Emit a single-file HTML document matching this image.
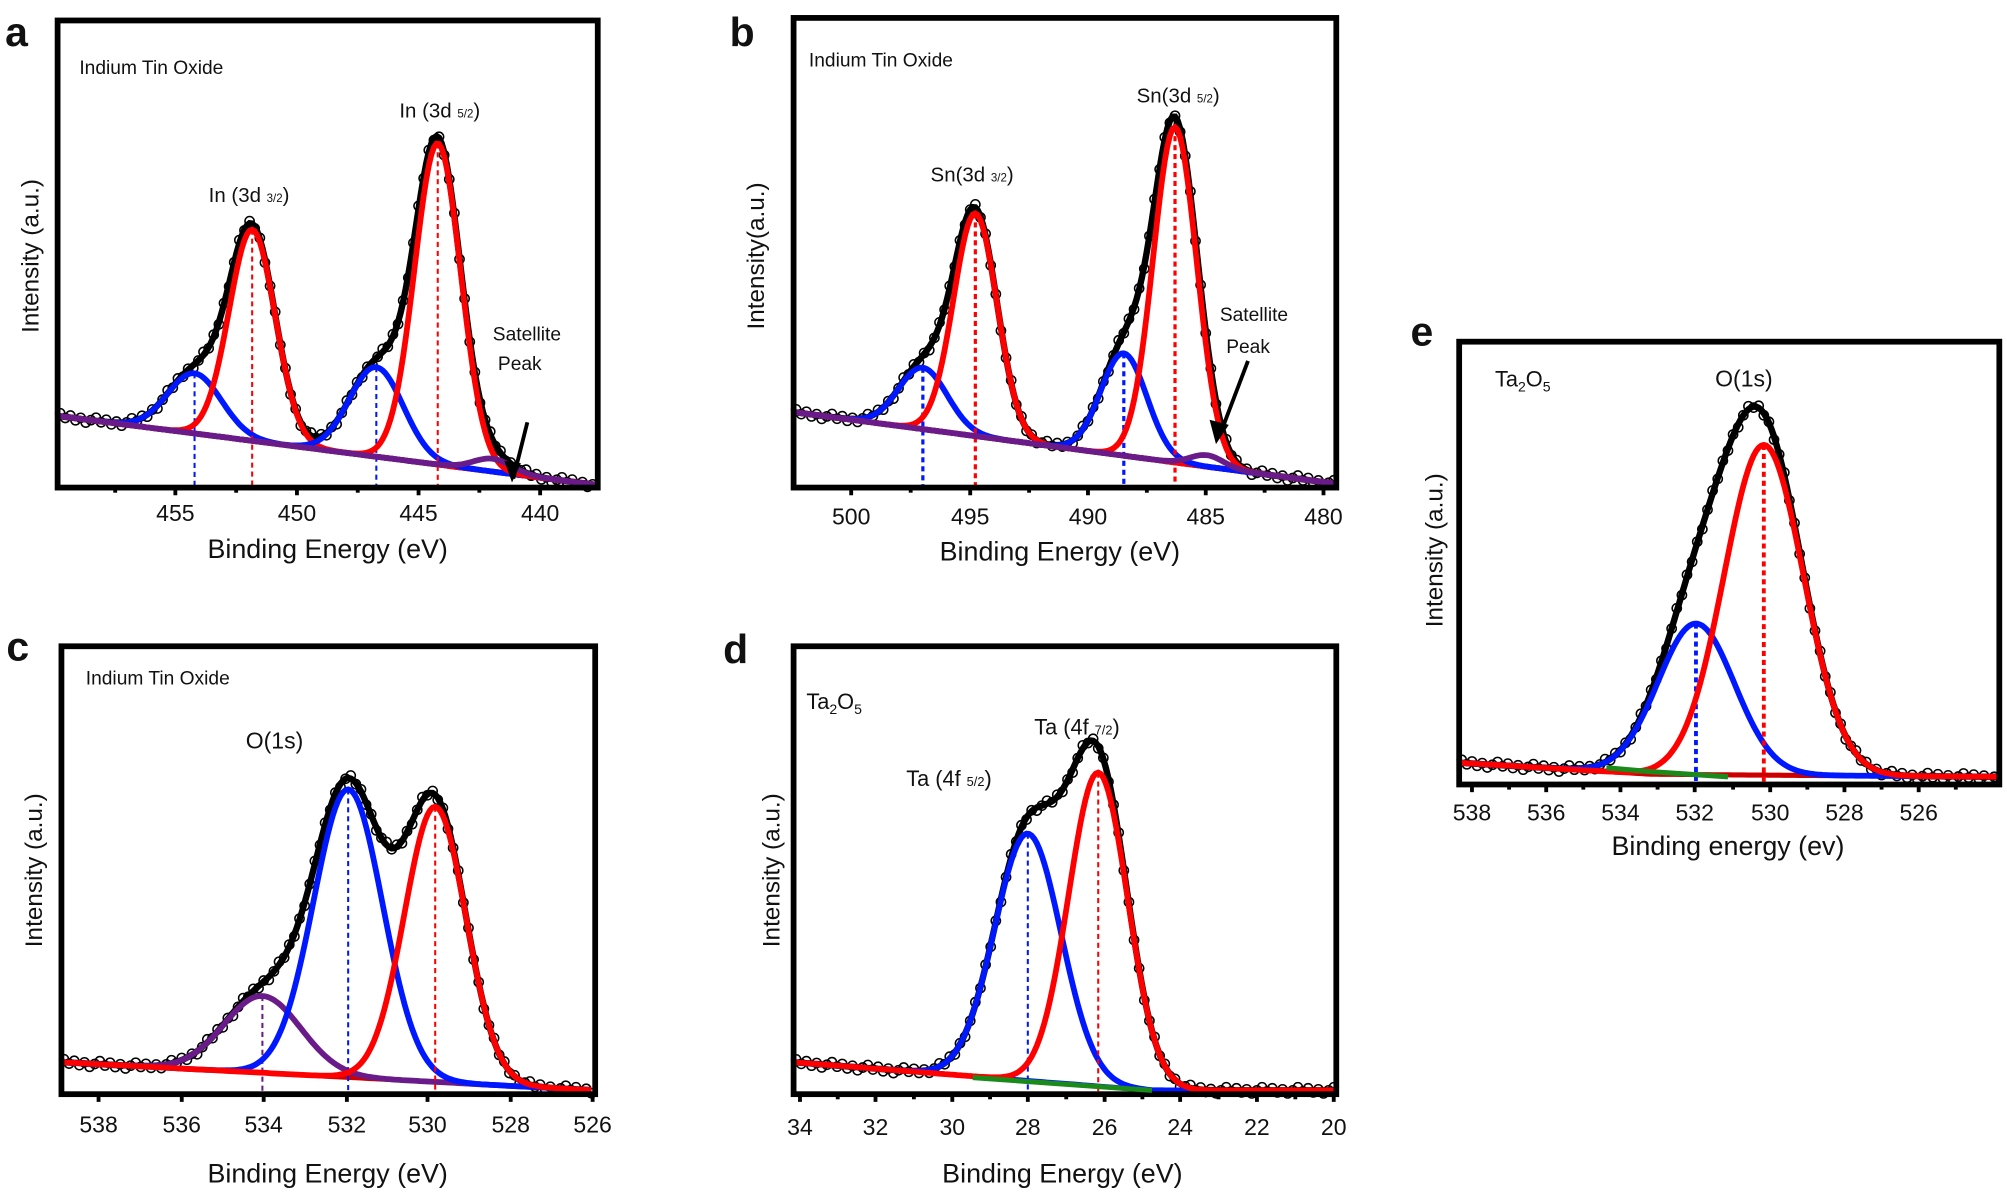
<!DOCTYPE html>
<html><head><meta charset="utf-8"><style>
html,body{margin:0;padding:0;background:#fff;}
svg{display:block;font-family:"Liberation Sans",Arial,sans-serif;}
</style></head><body>
<svg id="s" width="2007" height="1194" viewBox="0 0 1568 933" preserveAspectRatio="none" xmlns="http://www.w3.org/2000/svg">
<g id="g"></g>
</svg>
<script>
var NS="http://www.w3.org/2000/svg",G=document.getElementById("g");
function el(t,a,txt){var e=document.createElementNS(NS,t);for(var k in a)e.setAttribute(k,a[k]);if(txt!=null)e.textContent=txt;G.appendChild(e);return e;}
function txt(x,y,s,size,opt){opt=opt||{};var a={x:x,y:y,"font-size":size,fill:"#111"};if(opt.anchor)a["text-anchor"]=opt.anchor;if(opt.weight)a["font-weight"]=opt.weight;if(opt.rot)a.transform="rotate(-90 "+x+" "+y+")";var e=el("text",a);e.innerHTML=s;return e;}
function panel(p){
  var L=p.l,R=p.r,T=p.t,B=p.b;
  function bg(x){for(var i=0;i<p.bg.length-1;i++){var a=p.bg[i],b=p.bg[i+1];if(x<=b[0]){return a[1]+(b[1]-a[1])*(x-a[0])/(b[0]-a[0]);}}return p.bg[p.bg.length-1][1];}
  function pk(q,x){return q.h*Math.exp(-(x-q.x)*(x-q.x)/(2*q.s*q.s));}
  var d="",pts=[];
  for(var x=L+2;x<=R-2;x+=2){var y=bg(x);p.pk.forEach(function(q){y-=pk(q,x);});y=Math.min(y,B-2);d+=(d?"L":"M")+x+" "+y.toFixed(1);pts.push([x,y]);}
  el("path",{d:d,fill:"none",stroke:"#000","stroke-width":5});
  for(var i=0;i<pts.length;i+=2){var j=((i*37)%7-3)*0.8;el("circle",{cx:pts[i][0],cy:(pts[i][1]+j).toFixed(1),r:3.6,fill:"none",stroke:"#000","stroke-width":1.2});}
  var bd="";for(var x=L+2;x<=R-2;x+=4){bd+=(bd?"L":"M")+x+" "+bg(x).toFixed(1);}
  el("path",{d:bd,fill:"none",stroke:p.bgc,"stroke-width":4});
  p.pk.forEach(function(q){var cd="";for(var x=L+2;x<=R-2;x+=2){var y=Math.min(bg(x)-pk(q,x),B-2);cd+=(cd?"L":"M")+x+" "+y.toFixed(1);}
    el("path",{d:cd,fill:"none",stroke:q.c,"stroke-width":4.5});
    if(q.v)el("line",{x1:q.x,y1:bg(q.x)-q.h,x2:q.x,y2:B,stroke:q.c,"stroke-width":q.vw||1.6,"stroke-dasharray":"4,3"});
  });
  el("rect",{x:L,y:T,width:R-L,height:B-T,fill:"none",stroke:"#000","stroke-width":4.5});
  p.ticks.forEach(function(t){el("line",{x1:t[0],y1:B,x2:t[0],y2:B+6,stroke:"#000","stroke-width":3});txt(t[0],p.ty,t[1],18,{anchor:"middle"});});
  if(p.minor)p.minor.forEach(function(x){el("line",{x1:x,y1:B,x2:x,y2:B+4,stroke:"#000","stroke-width":3});});
  txt(p.xl[0],p.xl[1],p.xl[2],21,{anchor:"middle"});
  txt(p.yl[0],p.yl[1],p.yl[2],19,{anchor:"middle",rot:1});
  txt(p.let[0],p.let[1],p.let[2],32,{weight:"bold"});
}
function mids(a){var r=[];for(var i=0;i<a.length-1;i++)r.push((a[i][0]+a[i+1][0])/2);return r;}
// a
var ta=[[137,"455"],[232,"450"],[327,"445"],[422,"440"]];
panel({l:45,r:467,t:16,b:381,bgc:"#6a1b8a",
 bg:[[45,325],[467,379]],
 pk:[{x:152,h:47,s:21,c:"#0018ff",v:1},{x:197,h:165,s:18,c:"#ff0000",v:1},{x:294,h:70,s:21,c:"#0018ff",v:1},{x:342,h:251,s:18,c:"#ff0000",v:1},{x:385,h:10,s:15,c:"#6a1b8a"}],
 ticks:ta,minor:[90].concat(mids(ta)),ty:407,
 xl:[256,436,"Binding Energy (eV)"],yl:[30,200,"Intensity (a.u.)"],let:[4,36,"a"]});
txt(62,58,"Indium Tin Oxide",15);
txt(163,158,"In (3d <tspan font-size='9'>3/2</tspan>)",16);
txt(312,92,"In (3d <tspan font-size='9'>5/2</tspan>)",16);
txt(385,266,"Satellite",15);txt(389,289,"Peak",15);
el("path",{d:"M412 330 L401 374",stroke:"#000","stroke-width":3});
el("path",{d:"M394 360 L400 377 L407 362 Z",fill:"#000"});
// b
var tb=[[665,"500"],[758,"495"],[850,"490"],[942,"485"],[1034,"480"]];
panel({l:620,r:1044,t:14,b:381,bgc:"#6a1b8a",
 bg:[[620,322],[1044,378]],
 pk:[{x:721,h:48,s:19,c:"#0018ff",v:1,vw:2.5},{x:762,h:174,s:17,c:"#ff0000",v:1,vw:2.5},{x:878,h:80,s:18,c:"#0018ff",v:1,vw:2.5},{x:918,h:262,s:17,c:"#ff0000",v:1,vw:2.5},{x:943,h:9,s:13,c:"#6a1b8a"}],
 ticks:tb,minor:mids(tb),ty:410,
 xl:[828,438,"Binding Energy (eV)"],yl:[597,200,"Intensity(a.u.)"],let:[570,36,"b"]});
txt(632,52,"Indium Tin Oxide",15);
txt(727,142,"Sn(3d <tspan font-size='9'>3/2</tspan>)",16);
txt(888,80,"Sn(3d <tspan font-size='9'>5/2</tspan>)",16);
txt(953,251,"Satellite",15);txt(958,276,"Peak",15);
el("path",{d:"M975 282 L953 340",stroke:"#000","stroke-width":3});
el("path",{d:"M945 328 L950 347 L960 332 Z",fill:"#000"});
// c
var tc=[[77,"538"],[142,"536"],[206,"534"],[271,"532"],[334,"530"],[399,"528"],[463,"526"]];
panel({l:48,r:465,t:505,b:855,bgc:"#cc0000",
 bg:[[48,830],[465,852]],
 pk:[{x:205,h:60,s:30,c:"#6a1b8a",v:1},{x:272,h:225,s:27,c:"#0018ff",v:1},{x:340,h:215,s:24,c:"#ff0000",v:1}],
 ticks:tc,ty:885,
 xl:[256,924,"Binding Energy (eV)"],yl:[33,680,"Intensity (a.u.)"],let:[5,516,"c"]});
txt(67,535,"Indium Tin Oxide",15);
txt(192,585,"O(1s)",18);
// d
var td=[[625,"34"],[684,"32"],[744,"30"],[803,"28"],[863,"26"],[922,"24"],[982,"22"],[1042,"20"]];
panel({l:620,r:1044,t:505,b:855,bgc:"#0018ff",
 bg:[[620,830],[900,852],[1044,852]],
 pk:[{x:803,h:193,s:26,c:"#0018ff",v:1},{x:858,h:245,s:23,c:"#ff0000",v:1}],
 ticks:td,minor:mids(td),ty:887,
 xl:[830,924,"Binding Energy (eV)"],yl:[609,680,"Intensity (a.u.)"],let:[565,518,"d"]});
el("path",{d:"M760 842 L900 852",stroke:"#1a8a1a","stroke-width":4});
txt(630,554,"Ta<tspan font-size='11' dy='4'>2</tspan><tspan dy='-4'>O</tspan><tspan font-size='11' dy='4'>5</tspan>",17);
txt(808,574,"Ta (4f <tspan font-size='10'>7/2</tspan>)",17);
txt(708,614,"Ta (4f <tspan font-size='10'>5/2</tspan>)",17);
// e
panel({l:1140,r:1562,t:267,b:613,bgc:"#cc0000",
 bg:[[1140,596],[1290,605],[1562,607]],
 pk:[{x:1325,h:118,s:30,c:"#0018ff",v:1,vw:3},{x:1378,h:258,s:31,c:"#ff0000",v:1,vw:3}],
 ticks:[[1150,"538"],[1208,"536"],[1266,"534"],[1324,"532"],[1383,"530"],[1441,"528"],[1499,"526"]],minor:[1179,1237,1295,1354,1412,1470,1528],ty:641,
 xl:[1350,668,"Binding energy (ev)"],yl:[1127,430,"Intensity (a.u.)"],let:[1102,270,"e"]});
el("path",{d:"M1255 600 L1290 603 L1350 607",stroke:"#1a8a1a","stroke-width":4});
txt(1168,302,"Ta<tspan font-size='11' dy='4'>2</tspan><tspan dy='-4'>O</tspan><tspan font-size='11' dy='4'>5</tspan>",17);
txt(1340,302,"O(1s)",18);
</script>
</body></html>
